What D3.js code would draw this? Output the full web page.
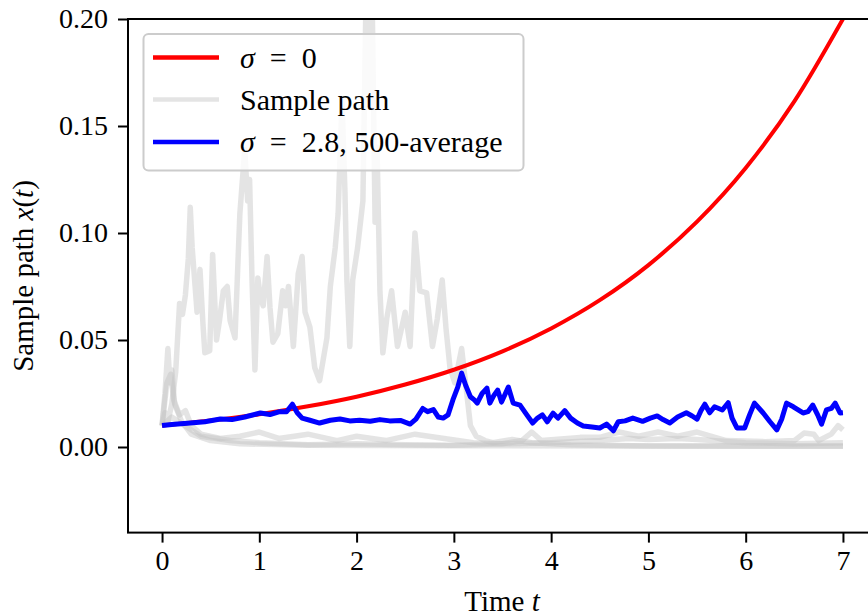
<html>
  <head>
    <meta charset="utf-8" />
    <title>Sample paths</title>
    <script src="https://cdn.jsdelivr.net/npm/d3@7"></script>
  </head>

  <style>
    html,
    body {
      margin: 0;
      padding: 0;
      background: #fff;
    }
    svg text {
      font-family: "Liberation Serif", "DejaVu Serif", serif;
    }
  </style>

  <body>
    <svg width="868" height="616" id="mainsvg"></svg>
    <script>
      // deterministic curve (sigma = 0)
      const detT = [0, 0.5, 1, 1.5, 2, 2.5, 3, 3.5, 4, 4.5, 5, 5.5, 6, 6.5, 7];
      const detX = [0.01, 0.0124, 0.0153, 0.019, 0.0235, 0.0292, 0.0361, 0.0447,
        0.0554, 0.0686, 0.085, 0.1053, 0.1304, 0.1615, 0.2];

      // sigma = 2.8, 500-average
      const avgT = [0, 0.1, 0.29, 0.44, 0.6, 0.72, 0.85, 1.01, 1.11, 1.21, 1.28, 1.34, 1.39,
        1.44, 1.52, 1.62, 1.73, 1.83, 1.93, 2.03, 2.14, 2.24, 2.34, 2.45, 2.55, 2.61, 2.68,
        2.73, 2.79, 2.84, 2.89, 2.94, 2.99, 3.04, 3.08, 3.12, 3.17, 3.21, 3.24, 3.29, 3.34,
        3.37, 3.41, 3.45, 3.49, 3.53, 3.56, 3.61, 3.68, 3.75, 3.81, 3.86, 3.91, 3.96, 4.02,
        4.07, 4.14, 4.2, 4.27, 4.33, 4.42, 4.5, 4.57, 4.64, 4.69, 4.76, 4.84, 4.94, 5.02,
        5.09, 5.15, 5.22, 5.3, 5.39, 5.45, 5.5, 5.54, 5.58, 5.63, 5.68, 5.76, 5.82, 5.86,
        5.91, 5.99, 6.04, 6.09, 6.18, 6.25, 6.32, 6.37, 6.42, 6.49, 6.59, 6.64, 6.69, 6.74,
        6.78, 6.83, 6.88, 6.92, 6.97, 7];
      const avgX = [0.01, 0.0105, 0.0112, 0.0118, 0.0131, 0.0128, 0.014, 0.0159, 0.0152,
        0.0165, 0.0165, 0.02, 0.016, 0.0135, 0.0125, 0.0112, 0.0125, 0.0131, 0.0122, 0.0125,
        0.012, 0.0128, 0.0122, 0.0124, 0.0107, 0.013, 0.018, 0.0165, 0.0175, 0.014, 0.0135,
        0.015, 0.022, 0.028, 0.0345, 0.029, 0.0235, 0.022, 0.0205, 0.025, 0.0275, 0.0205,
        0.024, 0.0266, 0.021, 0.025, 0.028, 0.0205, 0.0196, 0.015, 0.0112, 0.0135, 0.015,
        0.0118, 0.0158, 0.0135, 0.017, 0.0135, 0.0112, 0.0098, 0.0093, 0.0089, 0.0107,
        0.0076, 0.0118, 0.0122, 0.0135, 0.012, 0.0135, 0.0145, 0.0128, 0.0112, 0.014, 0.016,
        0.0145, 0.013, 0.017, 0.02, 0.016, 0.0188, 0.0173, 0.0207, 0.0135, 0.0089, 0.0089,
        0.015, 0.0205, 0.0159, 0.0118, 0.008, 0.013, 0.0205, 0.0188, 0.0159, 0.0165, 0.0196,
        0.015, 0.0107, 0.0173, 0.018, 0.0205, 0.0159, 0.016];

      // individual sample paths, [t, x]
      const pathA = [[0, 0.01], [0.03, 0.016], [0.06, 0.012], [0.1, 0.02], [0.14, 0.035],
        [0.18, 0.067], [0.21, 0.062], [0.24, 0.071], [0.27, 0.088], [0.29, 0.112],
        [0.31, 0.093], [0.34, 0.075], [0.36, 0.063], [0.39, 0.083], [0.42, 0.058],
        [0.44, 0.044], [0.49, 0.045], [0.52, 0.09], [0.56, 0.05], [0.59, 0.059],
        [0.63, 0.073], [0.67, 0.075], [0.7, 0.059], [0.75, 0.051], [0.8, 0.109],
        [0.85, 0.139], [0.88, 0.115], [0.9, 0.125], [0.925, 0.078], [0.955, 0.036],
        [0.985, 0.079], [1.01, 0.07], [1.04, 0.066], [1.08, 0.089], [1.11, 0.065],
        [1.14, 0.049], [1.19, 0.053], [1.24, 0.073], [1.27, 0.066], [1.3, 0.075],
        [1.35, 0.047], [1.4, 0.081], [1.44, 0.089], [1.47, 0.063], [1.52, 0.056],
        [1.57, 0.037], [1.62, 0.031], [1.695, 0.051], [1.73, 0.075], [1.78, 0.093],
        [1.81, 0.109], [1.85, 0.162], [1.88, 0.12], [1.9, 0.078], [1.93, 0.047],
        [1.96, 0.078], [2.01, 0.093], [2.065, 0.115], [2.1, 0.22], [2.13, 0.16],
        [2.16, 0.21], [2.19, 0.105], [2.21, 0.14], [2.24, 0.073], [2.27, 0.044],
        [2.31, 0.06], [2.36, 0.073], [2.42, 0.047], [2.5, 0.063], [2.55, 0.047],
        [2.6, 0.1], [2.65, 0.073], [2.72, 0.072], [2.78, 0.047], [2.83, 0.06],
        [2.88, 0.078], [2.92, 0.055], [2.96, 0.037], [3.01, 0.03], [3.08, 0.046],
        [3.12, 0.03], [3.17, 0.01], [3.23, 0.005], [3.32, 0.003], [3.4, 0.002],
        [3.6, 0.0035], [3.8, 0.002], [4.2, 0.001], [5, 0.0005], [7, 0.0003]];
      const pathB = [[0, 0.01], [0.03, 0.025], [0.06, 0.046], [0.08, 0.03], [0.1, 0.036],
        [0.13, 0.02], [0.2, 0.012], [0.3, 0.006], [0.5, 0.003], [0.8, 0.0015],
        [1.5, 0.0008], [3, 0.0006], [5, 0.0005], [7, 0.0005]];
      const pathC = [[0, 0.01], [0.05, 0.03], [0.09, 0.034], [0.12, 0.022], [0.18, 0.015],
        [0.24, 0.017], [0.3, 0.01], [0.4, 0.006], [0.6, 0.004], [0.8, 0.005], [1, 0.007],
        [1.2, 0.004], [1.5, 0.006], [1.8, 0.003], [2, 0.005], [2.3, 0.003], [2.6, 0.006],
        [2.9, 0.004], [3.2, 0.002], [3.5, 0.0015], [3.7, 0.003], [3.8, 0.007], [3.9, 0.003],
        [4.3, 0.0045], [4.5, 0.0045], [4.7, 0.007], [4.9, 0.005], [5.1, 0.007], [5.3, 0.005],
        [5.5, 0.007], [5.8, 0.003], [6.2, 0.0025], [6.5, 0.003], [6.6, 0.0065], [6.7, 0.006],
        [6.75, 0.003], [6.88, 0.006], [6.95, 0.01], [7, 0.008]];
      const pathD = [[0, 0.01], [0.1, 0.014], [0.2, 0.011], [0.4, 0.005], [0.7, 0.003],
        [1, 0.002], [1.5, 0.001], [2, 0.0015], [2.5, 0.001], [3, 0.0008], [3.5, 0.0015],
        [4, 0.002], [4.5, 0.003], [4.8, 0.004], [5, 0.0035], [5.3, 0.004], [5.5, 0.0035],
        [6, 0.002], [6.5, 0.0015], [7, 0.002]];
      const samplePaths = [pathA, pathB, pathC, pathD];

      const xTicks = [0, 1, 2, 3, 4, 5, 6, 7];
      const yTicks = [0, 0.05, 0.1, 0.15, 0.2];

      const svg = d3.select("svg");
      const plot = { left: 128, top: 19, right: 877, bottom: 532.6 };
      const xScale = d3.scaleLinear().domain([-0.35, 7.35]).range([plot.left, plot.right]);
      const yScale = d3.scaleLinear().domain([-0.04, 0.2]).range([plot.bottom, plot.top]);

      svg.append("defs").append("clipPath").attr("id", "clip")
        .append("rect")
        .attr("x", plot.left).attr("y", plot.top)
        .attr("width", plot.right - plot.left).attr("height", plot.bottom - plot.top);

      const lines = svg.append("g").attr("clip-path", "url(#clip)");
      const line = d3.line().x((d) => xScale(d[0])).y((d) => yScale(d[1]));

      lines.selectAll(".sample")
        .data(samplePaths)
        .join("path")
        .attr("class", "sample")
        .attr("d", line)
        .attr("fill", "none")
        .attr("stroke", "#c4c4c4")
        .attr("stroke-opacity", 0.45)
        .attr("stroke-width", 5.5)
        .attr("stroke-linejoin", "round");

      lines.append("path")
        .attr("d", line.curve(d3.curveMonotoneX)(detT.map((t, i) => [t, detX[i]])))
        .attr("fill", "none")
        .attr("stroke", "#ff0000")
        .attr("stroke-width", 4);
      line.curve(d3.curveLinear);

      lines.append("path")
        .attr("d", line(avgT.map((t, i) => [t, avgX[i]])))
        .attr("fill", "none")
        .attr("stroke", "#0000ff")
        .attr("stroke-width", 5)
        .attr("stroke-linejoin", "round");

      // axes
      const xAxis = svg.append("g")
        .attr("transform", `translate(0, ${plot.bottom})`)
        .call(d3.axisBottom(xScale).tickValues(xTicks).tickSize(10).tickPadding(8));
      const yAxis = svg.append("g")
        .attr("transform", `translate(${plot.left}, 0)`)
        .call(d3.axisLeft(yScale).tickValues(yTicks).tickFormat(d3.format(".2f"))
          .tickSize(10).tickPadding(10));
      [xAxis, yAxis].forEach((g) => {
        g.select(".domain").remove();
        g.selectAll(".tick line").attr("stroke", "#000").attr("stroke-width", 2);
        g.selectAll(".tick text").attr("fill", "#000").style("font-size", "28px");
      });

      svg.append("rect")
        .attr("x", plot.left).attr("y", plot.top)
        .attr("width", plot.right - plot.left).attr("height", plot.bottom - plot.top)
        .attr("fill", "none").attr("stroke", "#000").attr("stroke-width", 2);

      // axis labels
      const xl = svg.append("text")
        .attr("x", 502).attr("y", 611)
        .attr("text-anchor", "middle")
        .style("font-size", "29px");
      xl.append("tspan").text("Time ");
      xl.append("tspan").attr("font-style", "italic").text("t");

      const yl = svg.append("text")
        .attr("transform", "translate(33, 276) rotate(-90)")
        .attr("text-anchor", "middle")
        .style("font-size", "29px");
      yl.append("tspan").text("Sample path ");
      yl.append("tspan").attr("font-style", "italic").text("x");
      yl.append("tspan").text("(");
      yl.append("tspan").attr("font-style", "italic").text("t");
      yl.append("tspan").text(")");

      // legend
      const legend = svg.append("g");
      legend.append("rect")
        .attr("x", 143.5).attr("y", 34)
        .attr("width", 380).attr("height", 136.5)
        .attr("rx", 5)
        .attr("fill", "#fff").attr("fill-opacity", 0.8)
        .attr("stroke", "#cccccc").attr("stroke-width", 2);
      const items = [
        { color: "#ff0000", op: 1, y: 57.5, parts: [["σ", true], ["\u2002=\u20020", false]] },
        { color: "#c4c4c4", op: 0.45, y: 99.5, parts: [["Sample path", false]] },
        { color: "#0000ff", op: 1, y: 142, parts: [["σ", true], ["\u2002=\u20022.8, 500-average", false]] },
      ];
      items.forEach((it) => {
        legend.append("line")
          .attr("x1", 153).attr("x2", 219)
          .attr("y1", it.y).attr("y2", it.y)
          .attr("stroke", it.color).attr("stroke-opacity", it.op)
          .attr("stroke-width", 4.5);
        const t = legend.append("text")
          .attr("x", 240).attr("y", it.y + 10)
          .style("font-size", "30px");
        it.parts.forEach((p) => {
          t.append("tspan").attr("font-style", p[1] ? "italic" : "normal").text(p[0]);
        });
      });
    </script>
  </body>
</html>
